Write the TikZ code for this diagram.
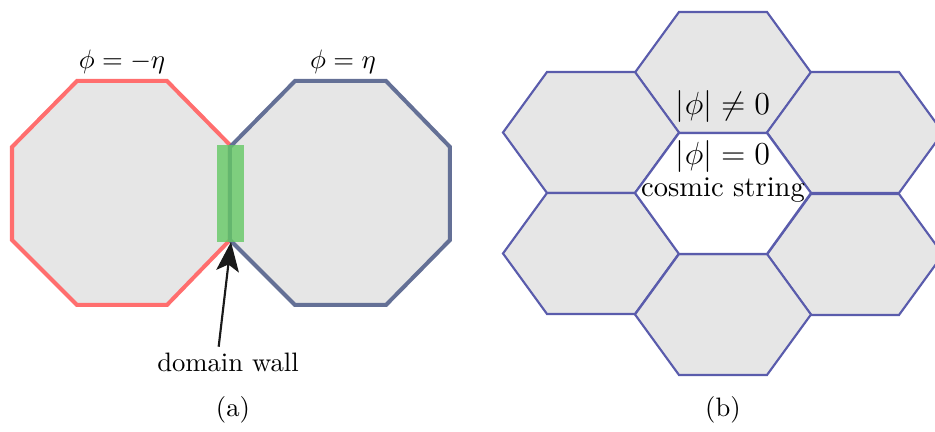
\documentclass[tikz,border=0pt]{standalone}
\usetikzlibrary{arrows.meta}
\definecolor{octred}{RGB}{255,110,110}
\definecolor{octblue}{RGB}{100,112,150}
\definecolor{hexblue}{RGB}{90,92,172}
\definecolor{cellgray}{RGB}{230,230,230}
\definecolor{wallgreen}{RGB}{100,200,100}
\definecolor{tipblack}{RGB}{25,25,25}
\begin{document}
\begin{tikzpicture}[x=0.375pt,y=-0.375pt,
  octline/.style={line width=1.5pt, fill=cellgray, line join=miter},
  hexline/.style={draw=hexblue, line width=0.8pt, fill=cellgray, line join=miter},
  lbl/.style={inner sep=0pt, anchor=center},
  pointer/.style={line width=0.8pt, draw=tipblack, -{Stealth[length=11pt,width=8.5pt,inset=2.5pt,fill=tipblack]}}]
\useasboundingbox (0,0) rectangle (935,432);
\clip (0,0) rectangle (935,432);
% (a) two domains
\draw[octline, draw=octred] (77,81) -- (167,81) -- (230,145) -- (230,240) -- (167,305) -- (77,305) -- (12,240) -- (12,147) -- cycle;
\draw[octline, draw=octblue] (295,81) -- (386,81) -- (450,147) -- (450,240) -- (386,305) -- (295,305) -- (230,240) -- (230,147) -- cycle;
\fill[wallgreen, opacity=0.8] (217,145) rectangle (244,242);
\coordinate (wallbot) at (231,242);
\node[lbl] (lminus) at (122,62) {$\phi = -\eta$};
\node[lbl] (lplus) at (343,62) {$\phi = \eta$};
\node[lbl] (dw) at (228,362) {domain wall};
\draw[pointer] ([xshift=-3.5pt,yshift=2pt]dw.north) -- (wallbot);
\node[lbl] (capa) at (233,410) {(a)};
% (b) hexagonal domains
\foreach \cx/\cy in {723/72.5, 591/132.5, 855/132.5, 591/253.5, 855/254.5, 723/314.5}{
  \draw[hexline] (\cx-88,\cy) -- (\cx-44,\cy-60.5) -- (\cx+44,\cy-60.5) -- (\cx+88,\cy) -- (\cx+44,\cy+60.5) -- (\cx-44,\cy+60.5) -- cycle;
}
\draw[hexline, fill=white] (635,193) -- (679,133) -- (767,133) -- (811,193) -- (767,254) -- (679,254) -- cycle;
\node[lbl] (nz) at (723,107) {\large $|\phi| \neq 0$};
\node[lbl] (z) at (723,157) {\large $|\phi| = 0$};
\node[lbl] (cs) at (723,190) {\fontsize{10.7}{13}\selectfont cosmic string};
\node[lbl] (capb) at (723,410) {(b)};
\end{tikzpicture}
\end{document}
